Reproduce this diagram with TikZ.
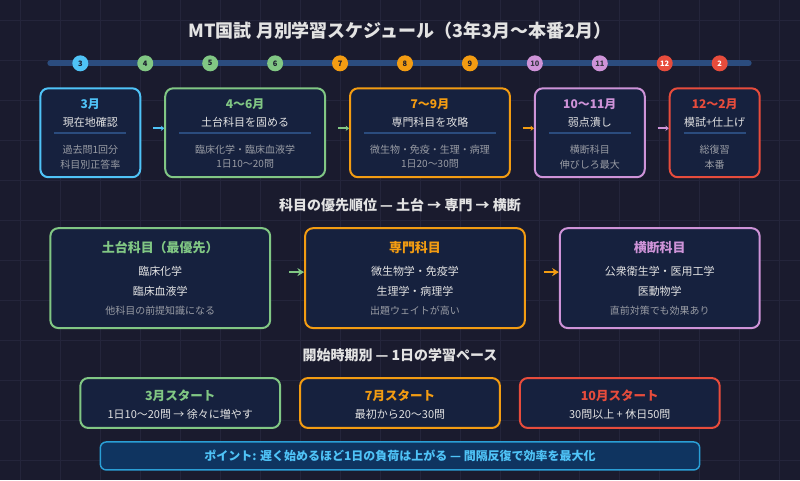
\documentclass[tikz,border=0pt]{standalone}
\usepackage{fontspec}
\setmainfont{Noto Sans CJK JP}
\usepackage{xcolor}
\usetikzlibrary{calc,arrows.meta,positioning}
\definecolor{bgc}{HTML}{1A1B2E}
\definecolor{gridc}{HTML}{24253B}
\definecolor{barc}{HTML}{2B4C7E}
\definecolor{boxc}{HTML}{16213E}
\definecolor{lite}{HTML}{E3E3E3}
\definecolor{dim}{HTML}{9A9DA5}
\definecolor{cblue}{HTML}{4FC3F7}
\definecolor{cgreen}{HTML}{81C784}
\definecolor{corange}{HTML}{F39C12}
\definecolor{cpurple}{HTML}{CE93D8}
\definecolor{cred}{HTML}{E74C3C}
\definecolor{tipfill}{HTML}{0F3460}
\definecolor{tipline}{HTML}{2A9FD6}

\begin{document}
\begin{tikzpicture}[x=0.75pt, y=-0.75pt,
  box/.style={draw=#1, line width=1.5pt, rounded corners=6pt, fill=boxc, inner sep=0pt},
  hd/.style={font=\bfseries\fontsize{10.5}{12}\selectfont, text=lite},
  mo/.style={font=\bfseries\fontsize{9}{10}\selectfont, text=#1},
  sub/.style={font=\fontsize{8.25}{10}\selectfont, text=lite},
  det/.style={font=\fontsize{7.5}{9}\selectfont, text=dim},
  dot/.style={circle, fill=#1, inner sep=0pt, minimum size=12pt, font=\bfseries\fontsize{5.6}{6}\selectfont},
  con/.style={draw=#1, line width=1.3pt, -{Stealth[length=2.5pt, width=4pt]}},
  arr/.style={draw=#1, line width=1.5pt, -{Stealth[length=5pt, width=6pt]}}
]
% background and grid
\fill[bgc] (0,0) rectangle (800,480);
\foreach \gx in {20,60,...,780} \draw[gridc, line width=0.6pt] (\gx,0) -- (\gx,480);
\foreach \gy in {20,60,...,460} \draw[gridc, line width=0.6pt] (0,\gy) -- (800,\gy);

\node[font=\bfseries\fontsize{13.5}{16}\selectfont, text=lite] (title) at (400,30) {MT国試 月別学習スケジュール（3年3月〜本番2月）};

% timeline
\draw[barc, line width=4.5pt, line cap=round] (50,63) -- (749,63);
\foreach \dx/\mn/\cl/\tc in {
  80/3/cblue/bgc, 145/4/cgreen/bgc, 210/5/cgreen/bgc, 275/6/cgreen/bgc,
  340/7/corange/bgc, 405/8/corange/bgc, 470/9/corange/bgc,
  535/10/cpurple/bgc!70!gray, 600/11/cpurple/bgc!70!gray,
  665/12/cred/white, 720/2/cred/white} {
  \node[dot=\cl, text=\tc] (d\mn) at (\dx,63) {\mn};
}

% phases
\foreach \i/\cx/\w/\cl/\mn/\ti/\da/\db in {
  1/90/75/cblue/3月/現在地確認/過去問1回分/科目別正答率,
  2/245/120/cgreen/4〜6月/土台科目を固める/臨床化学・臨床血液学/1日10〜20問,
  3/430/120/corange/7〜9月/専門科目を攻略/微生物・免疫・生理・病理/1日20〜30問,
  4/590/82.5/cpurple/10〜11月/弱点潰し/横断科目/伸びしろ最大,
  5/715/67.5/cred/12〜2月/模試+仕上げ/総復習/本番} {
  \node[box=\cl, minimum width=\w pt, minimum height=66.75pt] (p\i) at (\cx,132.5) {};
  \node[mo=\cl] (p\i-m) at (\cx,104) {\mn};
  \node[sub] (p\i-t) at (\cx,122) {\ti};
  \draw[barc, line width=1.5pt] ($(p\i.north west)+(15,46)$) -- ($(p\i.north east)+(-15,46)$);
  \node[det] (p\i-a) at (\cx,149) {\da};
  \node[det] (p\i-b) at (\cx,164) {\db};
}
\draw[con=cblue] ($(p1.east)+(12,-4.5)$) -- ($(p2.west)+(0,-4.5)$);
\draw[con=cgreen] ($(p2.east)+(12,-4.5)$) -- ($(p3.west)+(0,-4.5)$);
\draw[con=corange] ($(p3.east)+(12,-4.5)$) -- ($(p4.west)+(0,-4.5)$);
\draw[con=cpurple] ($(p4.east)+(12,-4.5)$) -- ($(p5.west)+(0,-4.5)$);

% priority
\node[hd] (prio) at (400,205) {科目の優先順位 — 土台 → 専門 → 横断};
\foreach \i/\cx/\w/\cl/\ti/\la/\lb/\nt in {
  1/160/165/cgreen/土台科目（最優先）/臨床化学/臨床血液学/他科目の前提知識になる,
  2/415/165/corange/専門科目/微生物学・免疫学/生理学・病理学/出題ウェイトが高い,
  3/660/150/cpurple/横断科目/公衆衛生学・医用工学/医動物学/直前対策でも効果あり} {
  \node[box=\cl, minimum width=\w pt, minimum height=75pt] (s\i) at (\cx,278) {};
  \node[font=\bfseries\fontsize{9.75}{11}\selectfont, text=\cl] (s\i-t) at (\cx,247) {\ti};
  \node[sub] (s\i-a) at (\cx,271) {\la};
  \node[sub] (s\i-b) at (\cx,291) {\lb};
  \node[det] (s\i-n) at (\cx,311) {\nt};
}
\draw[arr=cgreen] ($(s1.east)+(18,-6)$) -- ($(s2.west)+(0,-6)$);
\draw[arr=corange] ($(s2.east)+(18,-6)$) -- ($(s3.west)+(0,-6)$);

% pace
\node[hd] (pace) at (400,355) {開始時期別 — 1日の学習ペース};
\foreach \i/\cx/\cl/\ti/\ln in {
  1/180/cgreen/3月スタート/1日10〜20問 → 徐々に増やす,
  2/400/corange/7月スタート/最初から20〜30問,
  3/620/cred/10月スタート/30問以上 + 休日50問} {
  \node[box=\cl, minimum width=150pt, minimum height=37.5pt] (r\i) at (\cx,403) {};
  \node[mo=\cl, font=\bfseries\fontsize{9.4}{11}\selectfont] (r\i-t) at (\cx,396) {\ti};
  \node[sub] (r\i-a) at (\cx,414) {\ln};
}

\node[draw=tipline, fill=tipfill, line width=1.1pt, rounded corners=4.5pt,
  minimum width=450pt, minimum height=21pt, text=cblue,
  font=\bfseries\fontsize{9}{10}\selectfont] (point) at (400,456)
  {ポイント: 遅く始めるほど1日の負荷は上がる — 間隔反復で効率を最大化};
\end{tikzpicture}
\end{document}
